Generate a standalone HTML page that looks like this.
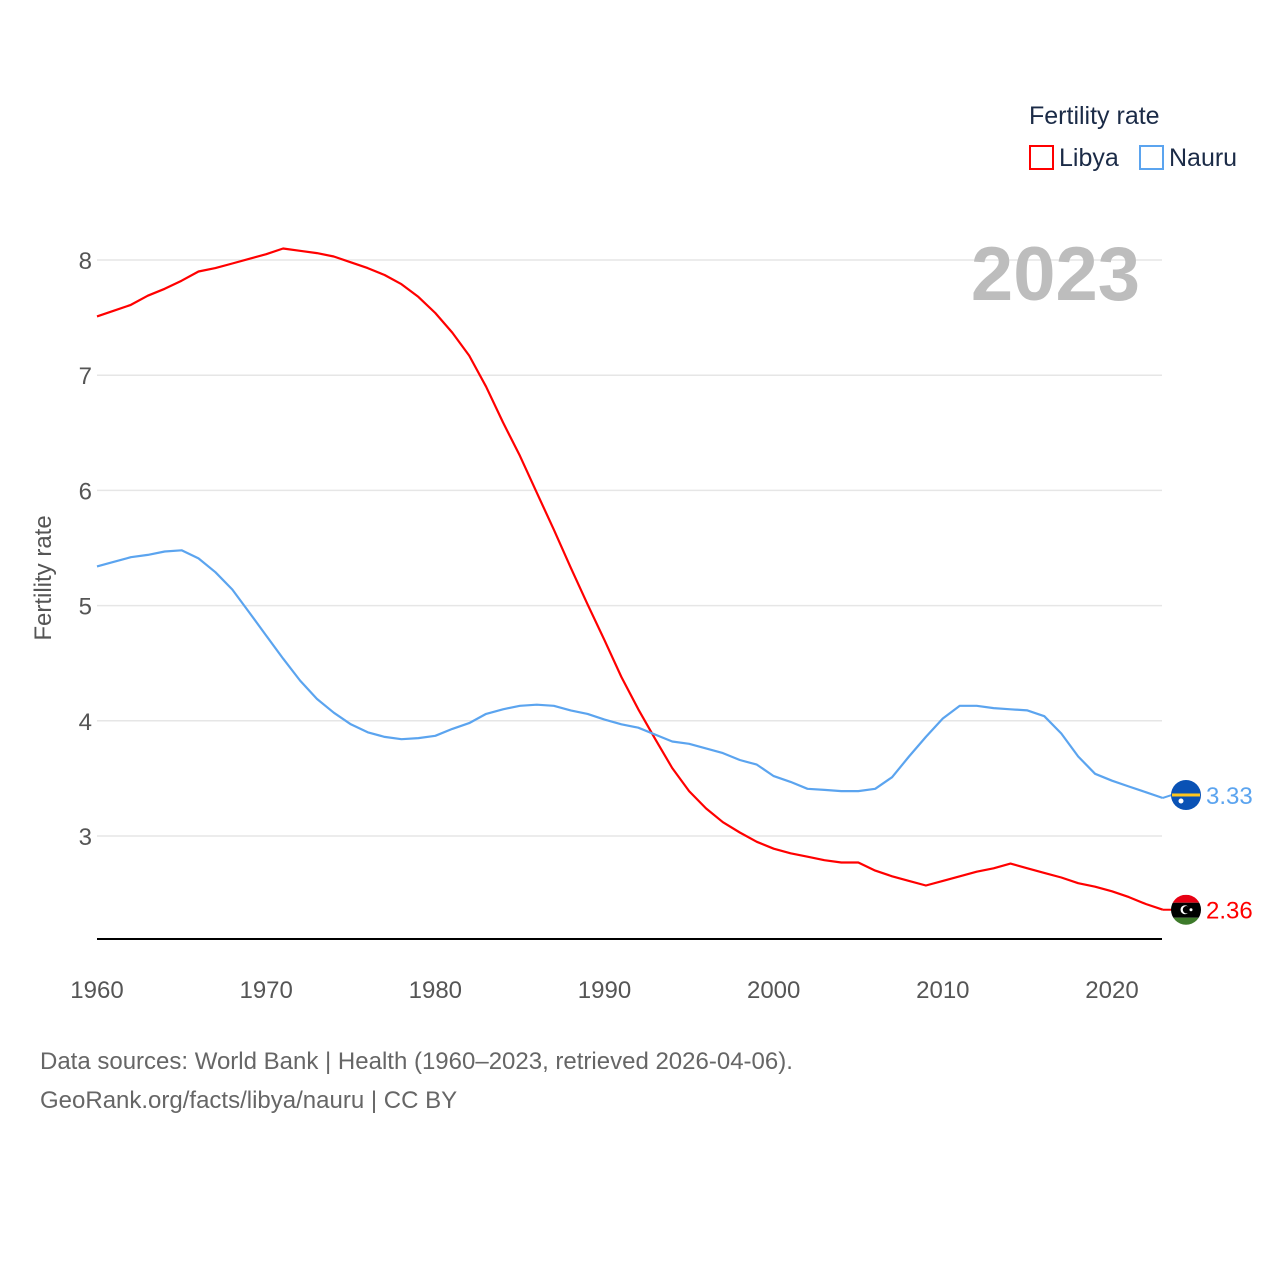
<!DOCTYPE html>
<html><head><meta charset="utf-8"><style>
body{margin:0;background:#fff;}
svg text{font-family:"Liberation Sans",sans-serif;}
</style></head><body>
<svg id="chart" width="1280" height="1280" viewBox="0 0 1280 1280" xmlns="http://www.w3.org/2000/svg">
<g id="grid"></g>
<g id="yticks"></g>
<g id="xticks"></g>
<line x1="97" y1="939" x2="1162" y2="939" stroke="#000" stroke-width="2"/>
<text transform="translate(51,578) rotate(-90)" text-anchor="middle" font-size="24" fill="#555">Fertility rate</text>
<text x="1140" y="300" text-anchor="end" font-size="76" font-weight="bold" fill="#bdbdbd">2023</text>
<g id="series"></g>
<g>
<text x="1029" y="124" font-size="25" fill="#1b2b47">Fertility rate</text>
<g>
<rect x="1030" y="146" width="23" height="23" fill="none" stroke="#f00" stroke-width="2"/>
<text x="1059" y="166" font-size="25" fill="#1b2b47">Libya</text></g>
<g>
<rect x="1140" y="146" width="23" height="23" fill="none" stroke="#5ba4ef" stroke-width="2"/>
<text x="1169" y="166" font-size="25" fill="#1b2b47">Nauru</text></g>
</g>
<text x="40" y="1069" font-size="24" fill="#666">Data sources: World Bank | Health (1960–2023, retrieved 2026-04-06).</text>
<text x="40" y="1108" font-size="24" fill="#666">GeoRank.org/facts/libya/nauru | CC BY</text>
</svg>
<script>
const startYear = 1960;
const libyaValues = [7.51,7.56,7.61,7.69,7.75,7.82,7.90,7.93,7.97,8.01,8.05,8.10,8.08,8.06,8.03,7.98,7.93,7.87,7.79,7.68,
7.54,7.37,7.17,6.90,6.59,6.30,5.98,5.66,5.33,5.01,4.70,4.38,4.10,3.84,3.59,3.39,3.24,3.12,3.03,2.95,
2.89,2.85,2.82,2.79,2.77,2.77,2.70,2.65,2.61,2.57,2.61,2.65,2.69,2.72,2.76,2.72,2.68,2.64,2.59,2.56,2.52,2.47,2.41,2.36];
const nauruValues = [5.34,5.38,5.42,5.44,5.47,5.48,5.41,5.29,5.14,4.94,4.74,4.54,4.35,4.19,4.07,3.97,3.90,3.86,3.84,3.85,
3.87,3.93,3.98,4.06,4.10,4.13,4.14,4.13,4.09,4.06,4.01,3.97,3.94,3.88,3.82,3.80,3.76,3.72,3.66,3.62,
3.52,3.47,3.41,3.40,3.39,3.39,3.41,3.51,3.69,3.86,4.02,4.13,4.13,4.11,4.10,4.09,4.04,3.89,3.69,3.54,3.48,3.43,3.38,3.33];
const yTicks = [3,4,5,6,7,8];
const xTicks = [1960,1970,1980,1990,2000,2010,2020];
const NS="http://www.w3.org/2000/svg";
function X(yr){return 97+(yr-1960)*(1015/60);}
function Y(v){return 836-(v-3)*115.2;}
function mk(tag,attrs,parent,txt){const e=document.createElementNS(NS,tag);for(const k in attrs)e.setAttribute(k,attrs[k]);if(txt!==undefined)e.textContent=txt;parent.appendChild(e);return e;}
const grid=document.getElementById('grid'),yt=document.getElementById('yticks'),xt=document.getElementById('xticks'),ser=document.getElementById('series');
yTicks.forEach(v=>{
 const l=mk('line',{x1:97,x2:1162,y1:Y(v),y2:Y(v),stroke:'#e6e6e6','stroke-width':1.5},grid);
 
 
 const t=mk('text',{x:92,y:Y(v)+9,'text-anchor':'end','font-size':24,fill:'#555'},yt,String(v));
 
 
});
xTicks.forEach(yr=>{
 const t=mk('text',{x:X(yr),y:998,'text-anchor':'middle','font-size':24,fill:'#555'},xt,String(yr));
 
 
});
function series(vals,color,name,off){
 const pts=vals.map((v,i)=>X(startYear+i).toFixed(1)+','+Y(v).toFixed(1)).join(' ');
 const p=mk('polyline',{points:pts,fill:'none',stroke:color,'stroke-width':2.2,'stroke-linejoin':'round'},ser);
 
 
 const last=vals[vals.length-1],ly=Y(last)+off,lx=X(startYear+vals.length-1);
 mk('line',{x1:lx,y1:Y(last),x2:1172,y2:ly,stroke:color,'stroke-width':2},ser);
 const t=mk('text',{x:1206,y:ly+9,'font-size':24,fill:color},ser,last.toFixed(2));
 
 
 return ly;
}
const ly1=series(libyaValues,'#ff0000','libya',0);
const ly2=series(nauruValues,'#5ba4ef','nauru',-3);
const fl=mk('g',{},ser);


mk('clipPath',{id:'c1'},fl);document.getElementById('c1').appendChild(document.createElementNS(NS,'circle'));
const c1=document.querySelector('#c1 circle');c1.setAttribute('cx',1186);c1.setAttribute('cy',ly1);c1.setAttribute('r',15);
mk('rect',{x:1171,y:ly1-15,width:30,height:8,fill:'#e70013','clip-path':'url(#c1)'},fl);
mk('rect',{x:1171,y:ly1-7,width:30,height:15,fill:'#000','clip-path':'url(#c1)'},fl);
mk('rect',{x:1171,y:ly1+8,width:30,height:8,fill:'#3d7a2a','clip-path':'url(#c1)'},fl);
mk('circle',{cx:1185,cy:ly1,r:4.5,fill:'#fff'},fl);
mk('circle',{cx:1186.5,cy:ly1,r:3.7,fill:'#000'},fl);
mk('circle',{cx:1191,cy:ly1,r:1.5,fill:'#fff'},fl);
const fn=mk('g',{},ser);


mk('circle',{cx:1186,cy:ly2,r:15,fill:'#0a52b5'},fn);
mk('rect',{x:1172,y:ly2-1.5,width:28,height:3,fill:'#ffc61e'},fn);
mk('circle',{cx:1181,cy:ly2+6,r:2.5,fill:'#fff'},fn);
</script>
</body></html>
